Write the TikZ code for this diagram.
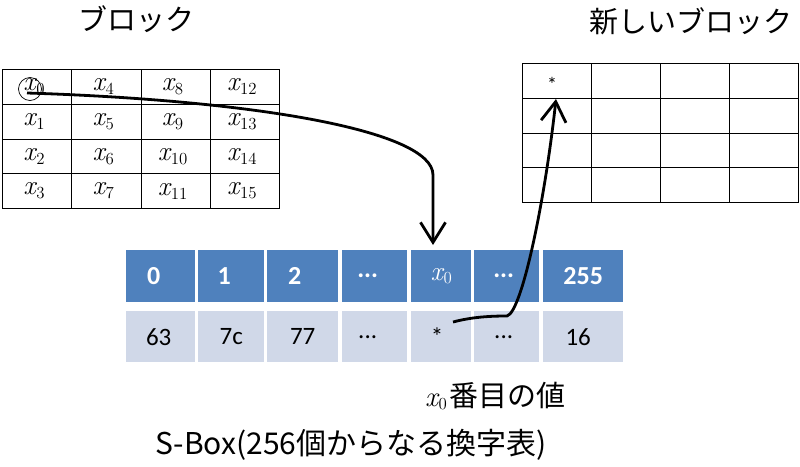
\documentclass[tikz,border=0pt]{standalone}
\usepackage{fontspec}
\setmainfont{Carlito}
\newfontfamily\jp{Noto Sans CJK JP}
\newfontfamily\lmr{Latin Modern Roman}
\usetikzlibrary{arrows.meta}
\definecolor{hdrblue}{HTML}{4F81BD}
\definecolor{cellblue}{HTML}{D0D8E8}
\newcommand{\xv}[1]{\scalebox{1.3}{{\lmr\itshape x}\kern0.5pt\raisebox{-3pt}{\lmr\fontsize{13}{14}\selectfont #1}}}
\begin{document}
\begin{tikzpicture}[x=1pt,y=-1pt,
  gridcell/.style={draw=black, line width=0.9pt, minimum width=69.25pt, minimum height=34.75pt, inner sep=0pt, anchor=north west, font=\fontsize{21}{24}\selectfont},
  newcell/.style={draw=black, line width=0.9pt, minimum width=69pt, minimum height=34.75pt, inner sep=0pt, anchor=north west},
  hdr/.style={fill=hdrblue, text=white, inner sep=0pt, anchor=north west, minimum height=52pt, font=\fontsize{26}{30}\selectfont\bfseries},
  hdrmath/.style={fill=hdrblue, text=white, inner sep=0pt, anchor=north west, minimum height=52pt, font=\fontsize{21}{24}\selectfont},
  val/.style={fill=cellblue, text=black, inner sep=0pt, anchor=north west, minimum height=51pt, font=\fontsize{25}{29}\selectfont},
  jplabel/.style={font=\jp\fontsize{29}{33}\selectfont, inner sep=0pt},
  conn/.style={line width=2.8pt, -{Straight Barb[length=20pt,width=25pt,line width=2.8pt]}}
]
\useasboundingbox (0,0) rectangle (800,466);

% labels
\node[jplabel] (lblblock) at (136,19) {ブロック};
\node[jplabel] (lblnew) at (691,21) {新しいブロック};
\node[jplabel, anchor=west] (lblval) at (425,396) {{\fontsize{22}{26}\selectfont\xv{0}}\kern2pt 番目の値};
\node[jplabel, font=\jp\fontsize{30}{34}\selectfont] (lblsbox) at (351,445) {S-Box(256個からなる換字表)};

% old block
\foreach \c in {0,...,3}{
  \foreach \r in {0,...,3}{
    \pgfmathtruncatemacro{\idx}{4*\c+\r}
    \node[gridcell] (L\r\c) at ({2+69.25*\c},{69+34.75*\r}) {\hspace*{-6pt}\xv{\idx}};
  }
}
\node[draw=black, line width=0.7pt, circle, minimum size=23pt, inner sep=0pt] (c0) at (30,89) {};

% new block
\foreach \c in {0,...,3}{
  \foreach \r in {0,...,3}{
    \node[newcell] (N\r\c) at ({522+69*\c},{63+34.75*\r}) {};
  }
}
\node[font=\fontsize{20}{22}\selectfont, inner sep=0pt] (star) at (552,84) {*};

% S-box header row
\node[hdr, minimum width=69pt] (S0) at (126,250) {0\hspace*{14pt}};
\node[hdr, minimum width=66pt] (S1) at (198,250) {1\hspace*{14pt}};
\node[hdr, minimum width=71pt] (S2) at (267,250) {2\hspace*{16pt}};
\node[hdr, minimum width=65pt] (S3) at (342,250) {...\hspace*{14pt}};
\node[hdrmath, minimum width=60pt] (S4) at (411,250) {\xv{0}};
\node[hdr, minimum width=65pt] (S5) at (474,250) {...\hspace*{6pt}};
\node[hdr, minimum width=80pt] (S6) at (543,250) {255};
% S-box value row
\node[val, minimum width=69pt] (B0) at (126,311) {63\hspace*{4pt}};
\node[val, minimum width=66pt] (B1) at (198,311) {7c};
\node[val, minimum width=71pt] (B2) at (267,311) {77};
\node[val, minimum width=65pt] (B3) at (342,311) {...\hspace*{14pt}};
\node[val, minimum width=60pt] (B4) at (411,311) {*\hspace*{8pt}};
\node[val, minimum width=65pt] (B5) at (474,311) {...\hspace*{6pt}};
\node[val, minimum width=80pt] (B6) at (543,311) {16\hspace*{10pt}};

\coordinate (a1end) at (433,245);
\coordinate (a1bend) at (433,175);
\coordinate (a2start) at (453,322);
\coordinate (a2corner) at (507,316);
\coordinate (a2end) at (556,99);

\draw[conn] (c0.center) ++(-3,4) .. controls (250,100) and (433,130) .. (a1bend) -- (a1end);
\draw[conn] (a2start) .. controls (472,317) and (490,316) .. (a2corner) .. controls (522,312) and (545,200) .. (a2end);
\end{tikzpicture}
\end{document}
